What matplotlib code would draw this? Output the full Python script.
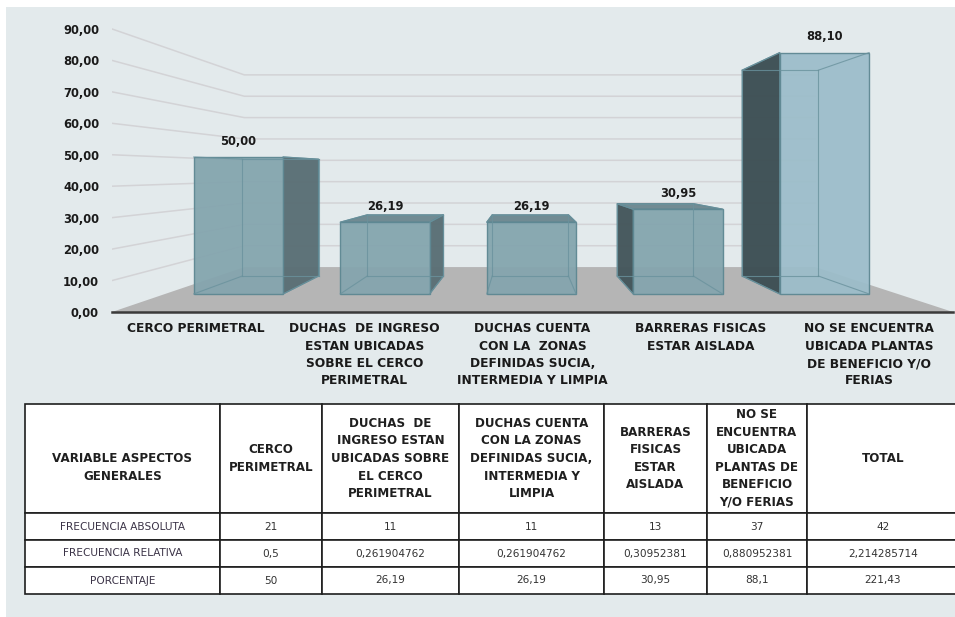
import numpy as np
import matplotlib.pyplot as plt
from matplotlib.patches import Polygon, Rectangle

# chart data
categories = ['CERCO PERIMETRAL',
              'DUCHAS  DE INGRESO\nESTAN UBICADAS\nSOBRE EL CERCO\nPERIMETRAL',
              'DUCHAS CUENTA\nCON LA  ZONAS\nDEFINIDAS SUCIA,\nINTERMEDIA Y LIMPIA',
              'BARRERAS FISICAS\nESTAR AISLADA',
              'NO SE ENCUENTRA\nUBICADA PLANTAS\nDE BENEFICIO Y/O\nFERIAS']
porcentaje = [50.00, 26.19, 26.19, 30.95, 88.10]
y_ticks = [0, 10, 20, 30, 40, 50, 60, 70, 80, 90]

# table data
table_header = ['\nVARIABLE ASPECTOS\nGENERALES',
                'CERCO\nPERIMETRAL',
                'DUCHAS  DE\nINGRESO ESTAN\nUBICADAS SOBRE\nEL CERCO\nPERIMETRAL',
                'DUCHAS CUENTA\nCON LA ZONAS\nDEFINIDAS SUCIA,\nINTERMEDIA Y\nLIMPIA',
                'BARRERAS\nFISICAS\nESTAR\nAISLADA',
                'NO SE\nENCUENTRA\nUBICADA\nPLANTAS DE\nBENEFICIO\nY/O FERIAS',
                'TOTAL']
row_labels = ['FRECUENCIA ABSOLUTA', 'FRECUENCIA RELATIVA', 'PORCENTAJE']
frec_absoluta = ['21', '11', '11', '13', '37', '42']
frec_relativa = ['0,5', '0,261904762', '0,261904762', '0,30952381', '0,880952381', '2,214285714']
porcentaje_txt = ['50', '26,19', '26,19', '30,95', '88,1', '221,43']

# 3D look: everything is drawn on the front plane and pulled toward a vanishing point
VX, VY = 1.95, 44.5
K_FRONT, K_BACK, K_WALL = 0.871, 0.743, 0.679
HALF_W = 0.305


def proj(x, v, k):
    return (VX + k * (x - VX), VY + k * (v - VY))


def comma(v, nd=2):
    return f'{v:.{nd}f}'.replace('.', ',')


fig = plt.figure(figsize=(9.55, 6.17), dpi=100)
fig.patch.set_facecolor('white')
fig.add_artist(Rectangle((6 / 955, 0), 1, 1 - 7 / 617, transform=fig.transFigure,
                         facecolor='#e3eaec', edgecolor='none', zorder=0))

ax = fig.add_axes([112 / 955, (617 - 312) / 617, (953 - 112) / 955, 292 / 617])
ax.set_xlim(-0.5, 4.5)
ax.set_ylim(0, 292 / 3.145)
ax.patch.set_visible(False)
for s in ax.spines.values():
    s.set_visible(False)

# walls gridlines
x_lo, x_hi = -0.5, 4.5
for v in y_ticks[1:]:
    p0 = proj(x_lo, v, 1.0)
    p1 = proj(x_lo, v, K_WALL)
    p2 = proj(x_hi, v, K_WALL)
    ax.plot([p0[0], p1[0], p2[0]], [p0[1], p1[1], p2[1]], color='#d3d3d6', lw=1.1, zorder=1)

# floor
floor = [proj(x_lo, 0, 1.0), proj(x_hi, 0, 1.0), proj(x_hi, 0, K_WALL), proj(x_lo, 0, K_WALL)]
ax.add_patch(Polygon(floor, closed=True, facecolor='#b5b5b5', edgecolor='none', zorder=2))
ax.plot([x_lo, x_hi], [0, 0], color='#3a3a3a', lw=1.8, zorder=3, clip_on=False)

front_cols = ['#84a5ae', '#84a5ae', '#84a5ae', '#84a5ae', '#9cbdca']
side_right = '#5a6f75'
side_left = ['#44565b', '#44565b', '#44565b', '#44565b', '#3d4f54']
top_col = '#6d8890'
edge_col = '#5d8792'

for i, v in enumerate(porcentaje):
    x0, x1 = i - HALF_W, i + HALF_W
    f = [proj(x0, 0, K_FRONT), proj(x1, 0, K_FRONT), proj(x1, v, K_FRONT), proj(x0, v, K_FRONT)]
    b = [proj(x0, 0, K_BACK), proj(x1, 0, K_BACK), proj(x1, v, K_BACK), proj(x0, v, K_BACK)]
    z = 4 + i
    # hidden edges seen through the glass
    hidden = [(b[0], b[1]), (b[1], b[2]), (b[2], b[3]), (b[3], b[0]),
              (f[0], b[0]), (f[1], b[1]), (f[2], b[2]), (f[3], b[3])]
    if x0 > VX:
        side = [f[0], b[0], b[3], f[3]]
        ax.add_patch(Polygon(side, closed=True, facecolor=side_left[i], edgecolor=edge_col,
                             lw=0.9, alpha=0.97, zorder=z))
    if x1 < VX:
        side = [f[1], b[1], b[2], f[2]]
        ax.add_patch(Polygon(side, closed=True, facecolor=side_right, edgecolor=edge_col,
                             lw=0.9, alpha=0.97, zorder=z))
    if v < VY:
        top = [f[3], f[2], b[2], b[3]]
        ax.add_patch(Polygon(top, closed=True, facecolor=top_col, edgecolor=edge_col,
                             lw=0.9, alpha=0.97, zorder=z))
    ax.add_patch(Polygon(f, closed=True, facecolor=front_cols[i], edgecolor=edge_col,
                         lw=1.0, alpha=0.94, zorder=z + 0.1))
    for (pa, pb) in hidden:
        ax.plot([pa[0], pb[0]], [pa[1], pb[1]], color='#6a929d', lw=0.8, alpha=0.8,
                zorder=z + 0.2)
    tx, ty = proj(i, v, K_FRONT)
    ax.annotate(comma(v), (tx, ty), xytext=(0, 11.5), textcoords='offset points',
                ha='center', va='center', fontsize=8.3, fontweight='bold', color='#1a1a1a',
                zorder=20, annotation_clip=False)

# category labels on the front edge
for i, lab in enumerate(categories):
    ax.annotate(lab, (i, 0), xytext=(0, -7.5), textcoords='offset points', ha='center',
                va='top', multialignment='center', fontsize=8.8, fontweight='bold',
                color='#1a1a1a', linespacing=1.43, annotation_clip=False)

ax.set_xticks([])
ax.set_yticks(y_ticks)
ax.set_yticklabels([comma(t) for t in y_ticks], fontsize=8.3, fontweight='bold', color='#1a1a1a')
ax.tick_params(axis='y', length=0, pad=9.4)

# data table
tax = fig.add_axes([25 / 955, 23 / 617, 934 / 955, 190 / 617])
tax.axis('off')
col_w = np.array([195, 102, 137, 145, 103, 100, 152], dtype=float)
cell_text = [[row_labels[0]] + frec_absoluta,
             [row_labels[1]] + frec_relativa,
             [row_labels[2]] + porcentaje_txt]
tbl = tax.table(cellText=cell_text, colLabels=table_header, colWidths=list(col_w / col_w.sum()),
                cellLoc='center', bbox=[0, 0, 1, 1])
tbl.auto_set_font_size(False)
for (r, c), cell in tbl.get_celld().items():
    cell.set_height(109 if r == 0 else 27)
    cell.set_edgecolor('#1e1e1e')
    cell.set_linewidth(1.2)
    cell.set_facecolor('white')
    t = cell.get_text()
    if r == 0:
        t.set_fontsize(8.6)
        t.set_fontweight('bold')
        t.set_color('#1f1f1f')
        t.set_linespacing(1.45)
    elif c == 0:
        t.set_fontsize(7.6)
        t.set_color('#3b3347')
    else:
        t.set_fontsize(7.6)
        t.set_color('#333333')

fig.savefig('out.png', dpi=100)
